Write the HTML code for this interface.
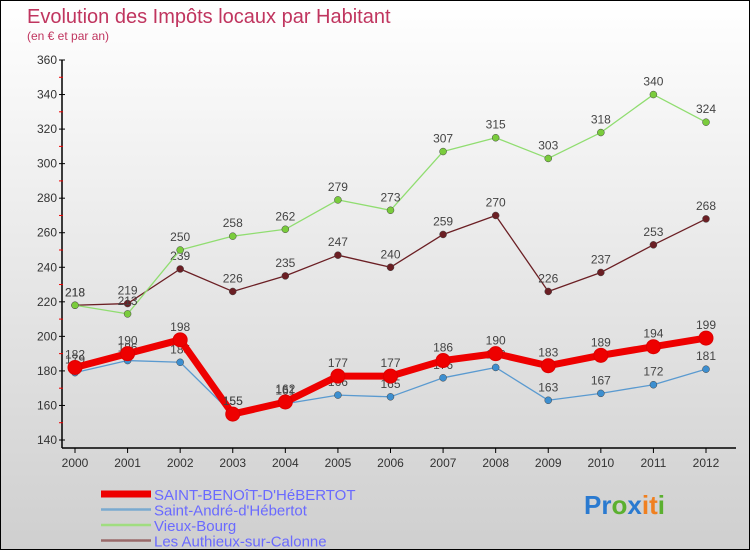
<!DOCTYPE html>
<html><head><meta charset="utf-8">
<style>
html,body{margin:0;padding:0}
body{width:750px;height:550px;overflow:hidden;font-family:"Liberation Sans",sans-serif}
#c{position:absolute;left:0;top:0;width:748px;height:548px;border:1px solid #000;background:linear-gradient(#ffffff,#cfcfcf)}
</style></head><body>
<div id="c">
<svg id="s" width="748" height="548">
<text x="26" y="22" font-size="20" fill="#c0355f">Evolution des Impôts locaux par Habitant</text>
<text x="26" y="39" font-size="12" fill="#c0355f">(en € et par an)</text>
<g id="g"></g>
</svg>
</div>
<script>
const years=[2000,2001,2002,2003,2004,2005,2006,2007,2008,2009,2010,2011,2012];
const yTicks=[140,160,180,200,220,240,260,280,300,320,340,360];
const sBenoit=[182,190,198,155,162,177,177,186,190,183,189,194,199];
const sAndre=[179,186,185,155,161,166,165,176,182,163,167,172,181];
const sVieux=[218,213,250,258,262,279,273,307,315,303,318,340,324];
const sAuth=[218,219,239,226,235,247,240,259,270,226,237,253,268];
const names=["SAINT-BENOîT-D'HéBERTOT","Saint-André-d'Hébertot","Vieux-Bourg","Les Authieux-sur-Calonne"];
const NS="http://www.w3.org/2000/svg";
const g=document.getElementById('g');
const X=i=>74+i*(705-74)/12;
const Y=v=>439-(v-140)*(439-59)/220;
function el(t,a,p){const e=document.createElementNS(NS,t);for(const k in a)e.setAttribute(k,a[k]);(p||g).appendChild(e);return e;}
// axes
let ax=el('line',{x1:61,y1:59,x2:61,y2:447,stroke:'#000','stroke-width':1.5});


let bx=el('line',{x1:61,y1:447,x2:735,y2:447,stroke:'#000','stroke-width':1.5});


yTicks.forEach((v,i)=>{
  el('line',{x1:58,y1:Y(v),x2:64,y2:Y(v),stroke:'#000'});
  if(i<yTicks.length-1) el('line',{x1:58,y1:Y(v+10),x2:62,y2:Y(v+10),stroke:'#e00'});
  const t=el('text',{x:56,y:Y(v)+4,'font-size':12,'text-anchor':'end',fill:'#333'});
  t.textContent=v;
  
  
});
years.forEach((yr,i)=>{
  el('line',{x1:X(i),y1:447,x2:X(i),y2:452,stroke:'#000'});
  const t=el('text',{x:X(i),y:466,'font-size':12,'text-anchor':'middle',fill:'#333'});
  t.textContent=yr;
  
  
});
const series=[
 {d:sAuth,c:'#6b1f24',w:1.3,r:3.5,n:'series-authieux'},
 {d:sVieux,c:'#90dd70',w:1.3,r:3.5,n:'series-vieux-bourg'},
 {d:sAndre,c:'#5a9ad0',w:1.3,r:3.5,n:'series-saint-andre'},
 {d:sBenoit,c:'#ee0000',w:7,r:7,n:'series-saint-benoit'}
];
series.forEach(s=>{
  const p=el('polyline',{points:s.d.map((v,i)=>X(i)+','+Y(v)).join(' '),fill:'none',stroke:s.c,'stroke-width':s.w,'stroke-linejoin':'round'});
  
  
  s.d.forEach((v,i)=>{
    const c=el('circle',{cx:X(i),cy:Y(v),r:s.r,fill:s.c==='#90dd70'?'#7acc3c':s.c==='#5a9ad0'?'#3d8fd0':s.c,stroke:s.c==='#ee0000'?'#d00':'#444','stroke-width':s.c==='#ee0000'?1:0.5});
    
    
    const t=el('text',{x:X(i),y:Y(v)-9,'font-size':12,'text-anchor':'middle',fill:'#444'});
    t.textContent=v;
    
    
  });
});
// legend
const lc=['#ee0000','#7aaad0','#a0dd80','#9a6a6a'],lw=[7,2.5,2.5,2.5];
names.forEach((n,i)=>{
  const y=493+i*15.5;
  const l=el('line',{x1:100,y1:y,x2:150,y2:y,stroke:lc[i],'stroke-width':lw[i]});
  
  
  const t=el('text',{x:153,y:y+6,'font-size':15,fill:'#6a6aff'});
  t.textContent=n;
  
  
});
const logo=el('text',{x:583,y:513,'font-size':26,'font-weight':'bold'});


[['P','#2a7ad0'],['r','#2a7ad0'],['o','#5bb030'],['x','#2a7ad0'],['i','#f08020'],['t','#f08020'],['i','#5bb030']].forEach(([ch,c])=>{const s=el('tspan',{fill:c},logo);s.textContent=ch;});
</script>
</body></html>
